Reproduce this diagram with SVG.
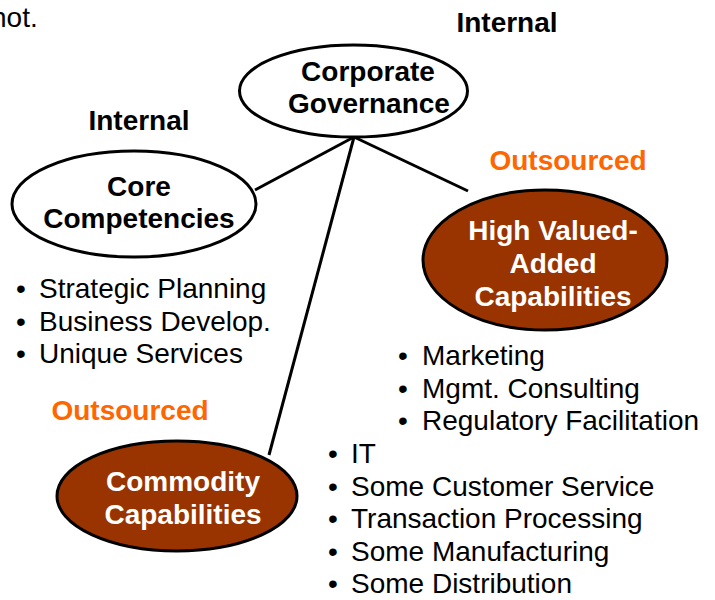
<svg xmlns="http://www.w3.org/2000/svg" width="715" height="600" viewBox="0 0 715 600">
  <style>
    .bg { fill: #ffffff; }
    .node-white { fill: #ffffff; stroke: #000000; stroke-width: 3; }
    .node-brown { fill: #993300; stroke: #000000; stroke-width: 3; }
    .link { stroke: #000000; stroke-width: 3; fill: none; }
    .title { font-family: "Liberation Sans", Arial, sans-serif; font-size: 28px; font-weight: bold; text-anchor: middle; }
    .dark { fill: #000000; }
    .light { fill: #ffffff; }
    .tag { font-family: "Liberation Sans", Arial, sans-serif; font-size: 28px; font-weight: bold; text-anchor: middle; fill: #000000; }
    .tag-out { fill: #ff6600; }
    .item { font-family: "Liberation Sans", Arial, sans-serif; font-size: 28px; fill: #000000; }
  </style>

  <rect class="bg" x="0" y="0" width="715" height="600"/>

  <!-- trailing word of a sentence above the chart -->
  <text class="item" x="-9" y="27">not.</text>

  <!-- connectors from the governance node -->
  <g id="connectors">
    <line class="link" x1="354" y1="137" x2="255" y2="190"/>
    <line class="link" x1="354" y1="137" x2="468" y2="191"/>
    <line class="link" x1="354" y1="137" x2="269" y2="455"/>
  </g>

  <g id="corporate-governance">
    <text class="tag" x="507" y="32">Internal</text>
    <ellipse class="node-white" cx="353.5" cy="91" rx="114" ry="46"/>
    <text class="title dark" x="368" y="81">Corporate</text>
    <text class="title dark" x="369" y="113">Governance</text>
  </g>

  <g id="core-competencies">
    <text class="tag" x="139" y="130">Internal</text>
    <ellipse class="node-white" cx="134" cy="204" rx="122" ry="53"/>
    <text class="title dark" x="139" y="196">Core</text>
    <text class="title dark" x="139" y="228">Competencies</text>
    <g class="item">
      <text x="16" y="298">•</text><text x="39" y="298">Strategic Planning</text>
      <text x="16" y="330.5">•</text><text x="39" y="330.5">Business Develop.</text>
      <text x="16" y="363">•</text><text x="39" y="363">Unique Services</text>
    </g>
  </g>

  <g id="high-valued-added">
    <text class="tag tag-out" x="568" y="170">Outsourced</text>
    <ellipse class="node-brown" cx="545" cy="260" rx="122" ry="70"/>
    <text class="title light" x="553" y="240">High Valued-</text>
    <text class="title light" x="553" y="273">Added</text>
    <text class="title light" x="553" y="306">Capabilities</text>
    <g class="item">
      <text x="398" y="365">•</text><text x="422" y="365">Marketing</text>
      <text x="398" y="397.5">•</text><text x="422" y="397.5">Mgmt. Consulting</text>
      <text x="398" y="430">•</text><text x="422" y="430">Regulatory Facilitation</text>
    </g>
  </g>

  <g id="commodity-capabilities">
    <text class="tag tag-out" x="130" y="420">Outsourced</text>
    <ellipse class="node-brown" cx="177" cy="496" rx="120" ry="55"/>
    <text class="title light" x="183" y="491">Commodity</text>
    <text class="title light" x="183" y="524">Capabilities</text>
    <g class="item">
      <text x="328" y="463">•</text><text x="351" y="463">IT</text>
      <text x="328" y="495.5">•</text><text x="351" y="495.5">Some Customer Service</text>
      <text x="328" y="528">•</text><text x="351" y="528">Transaction Processing</text>
      <text x="328" y="560.5">•</text><text x="351" y="560.5">Some Manufacturing</text>
      <text x="328" y="593">•</text><text x="351" y="593">Some Distribution</text>
    </g>
  </g>
</svg>
